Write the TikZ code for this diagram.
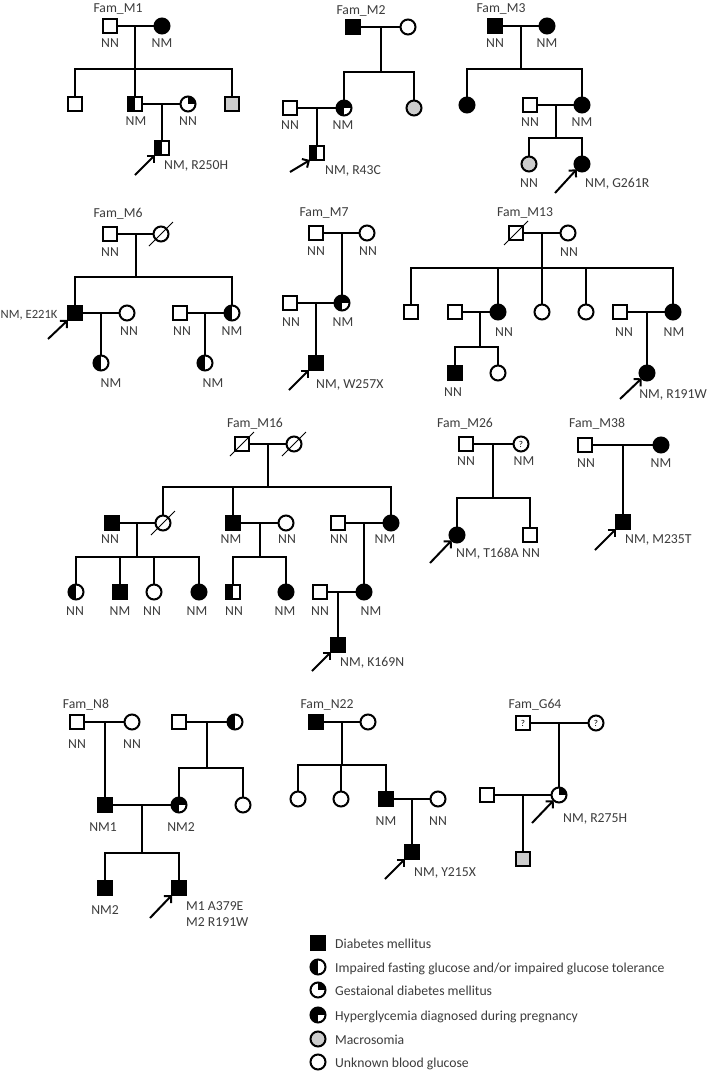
\documentclass[tikz,border=0pt]{standalone}
\usepackage{fontspec}
\setmainfont{Carlito}
\usetikzlibrary{arrows.meta,calc}
\definecolor{macgray}{RGB}{205,205,205}
\definecolor{txt}{RGB}{60,60,60}
\newcommand\lblfont{\fontsize{13.7}{15}\selectfont}
\newcommand\smlfont{\fontsize{12.6}{15}\selectfont}
\newcommand\qfont{\fontsize{9}{9}\selectfont}
\newcommand\deceased[1]{\draw[slash] ($(#1)+(-12,12)$) -- ($(#1)+(12,-12)$);}
\tikzset{
  sym/.style={draw=black, line width=2pt, inner sep=0pt, outer sep=0pt},
  sq/.style={sym, rectangle, minimum size=14},
  ci/.style={sym, circle, minimum size=15},
  aff/.style={fill=black},
  mac/.style={fill=macgray},
  halfL/.style={path picture={\fill[black] (path picture bounding box.south west) rectangle (path picture bounding box.north);}},
  gdm/.style={path picture={\fill[black] (path picture bounding box.center) rectangle (path picture bounding box.north east);}},
  hyp/.style={path picture={\fill[black] (path picture bounding box.south west) rectangle (path picture bounding box.north);\fill[black] (path picture bounding box.center) rectangle (path picture bounding box.north east);}},
  ln/.style={line width=2pt},
  lbl/.style={anchor=base, text=txt, font=\lblfont, inner sep=0pt},
  lblw/.style={lbl, anchor=base west},
  lble/.style={lbl, anchor=base east},
  parrow/.style={line width=2pt, -{Straight Barb[length=5pt,width=10pt]}},
  slash/.style={line width=0.9pt},
}
\begin{document}
\begin{tikzpicture}[x=1pt,y=-1pt]
\useasboundingbox[fill=white] (0,0) rectangle (709,1071);

% ---------------- Fam_M1 ----------------
\node[lbl] (tM1) at (118,12) {Fam\_M1};
\node[sq] (m1f) at (110,26) {};
\node[ci,aff] (m1m) at (162,26) {};
\node[sq] (m1a) at (75,104) {};
\node[sq,halfL] (m1b) at (135,104) {};
\node[ci,gdm] (m1bs) at (188,104) {};
\node[sq,mac] (m1d) at (232,104) {};
\node[sq,halfL] (m1p) at (162,148) {};
\coordinate (m1c) at (135,26); \coordinate (m1j) at (135,69);
\coordinate (m1c2) at (162,104);
\draw[ln] (m1f) -- (m1m);
\draw[ln] (m1c) -- (m1j);
\draw[ln] (m1a.north) |- (m1j) -| (m1d.north);
\draw[ln] (m1j) -- (m1b.north);
\draw[ln] (m1b) -- (m1bs);
\draw[ln] (m1c2) -- (m1p.north);
\node[lbl] (m1l1) at (110,47) {NN};
\node[lbl] (m1l2) at (162,47) {NM};
\node[lbl] (m1l3) at (136,125) {NM};
\node[lbl] (m1l4) at (188,125) {NN};
\node[lblw] (m1l5) at (164,169) {NM, R250H};
\coordinate (m1ar) at (135,175);
\draw[parrow] (m1ar) -- (m1p.south west);

% ---------------- Fam_M2 ----------------
\node[lbl] (tM2) at (361,14) {Fam\_M2};
\node[sq,aff] (m2f) at (353,27) {};
\node[ci] (m2m) at (408,27) {};
\node[ci,hyp] (m2a) at (344,108) {};
\node[ci,mac] (m2b) at (414,108) {};
\node[sq] (m2as) at (290,108) {};
\node[sq,halfL] (m2p) at (317,153) {};
\coordinate (m2c) at (381,27); \coordinate (m2j) at (381,72);
\coordinate (m2c2) at (317,108);
\draw[ln] (m2f) -- (m2m);
\draw[ln] (m2c) -- (m2j);
\draw[ln] (m2a.north) |- (m2j) -| (m2b.north);
\draw[ln] (m2as) -- (m2a);
\draw[ln] (m2c2) -- (m2p.north);
\node[lbl] (m2l1) at (290,129) {NN};
\node[lbl] (m2l2) at (343,129) {NM};
\node[lblw] (m2l3) at (325,174) {NM, R43C};
\coordinate (m2ar) at (290,172);
\draw[parrow] (m2ar) -- (m2p.south west);

% ---------------- Fam_M3 ----------------
\node[lbl] (tM3) at (501,12) {Fam\_M3};
\node[sq,aff] (m3f) at (495,26) {};
\node[ci,aff] (m3m) at (547,26) {};
\node[ci,aff] (m3a) at (467,105) {};
\node[ci,aff] (m3b) at (582,105) {};
\node[sq] (m3bs) at (530,105) {};
\node[ci,mac] (m3g1) at (529,164) {};
\node[ci,aff] (m3p) at (582,164) {};
\coordinate (m3c) at (521,26); \coordinate (m3j) at (521,69);
\coordinate (m3c2) at (556,105); \coordinate (m3j2) at (556,138);
\draw[ln] (m3f) -- (m3m);
\draw[ln] (m3c) -- (m3j);
\draw[ln] (m3a.north) |- (m3j) -| (m3b.north);
\draw[ln] (m3bs) -- (m3b);
\draw[ln] (m3c2) -- (m3j2);
\draw[ln] (m3g1.north) |- (m3j2) -| (m3p.north);
\node[lbl] (m3l1) at (495,47) {NN};
\node[lbl] (m3l2) at (547,47) {NM};
\node[lbl] (m3l3) at (530,126) {NN};
\node[lbl] (m3l4) at (582,126) {NM};
\node[lbl] (m3l5) at (529,187) {NN};
\node[lblw] (m3l6) at (585,187) {NM, G261R};
\coordinate (m3ar) at (555,193);
\draw[parrow] (m3ar) -- (m3p.south west);

% ---------------- Fam_M6 ----------------
\node[lbl] (tM6) at (118,217) {Fam\_M6};
\node[sq] (m6f) at (110,234) {};
\node[ci] (m6m) at (161,234) {};
\deceased{m6m}
\node[sq,aff] (m6p) at (75,313) {};
\node[ci,halfL] (m6b) at (232,313) {};
\node[ci] (m6ps) at (127,313) {};
\node[sq] (m6bs) at (180,313) {};
\node[ci,halfL] (m6g1) at (101,363) {};
\node[ci,halfL] (m6g2) at (205,363) {};
\coordinate (m6c) at (136,234); \coordinate (m6j) at (136,277);
\coordinate (m6c2) at (101,313); \coordinate (m6c3) at (205,313);
\draw[ln] (m6f) -- (m6m);
\draw[ln] (m6c) -- (m6j);
\draw[ln] (m6p.north) |- (m6j) -| (m6b.north);
\draw[ln] (m6p) -- (m6ps);
\draw[ln] (m6bs) -- (m6b);
\draw[ln] (m6c2) -- (m6g1.north);
\draw[ln] (m6c3) -- (m6g2.north);
\node[lbl] (m6l1) at (110,256) {NN};
\node[lbl] (m6l2) at (129,335) {NN};
\node[lbl] (m6l3) at (182,335) {NN};
\node[lbl] (m6l4) at (232,335) {NM};
\node[lbl] (m6l5) at (111,387) {NM};
\node[lbl] (m6l6) at (213,387) {NM};
\node[lblw, font=\smlfont] (m6l7) at (0.5,318) {NM, E221K};
\coordinate (m6ar) at (48,339);
\draw[parrow] (m6ar) -- (m6p.south west);

% ---------------- Fam_M7 ----------------
\node[lbl] (tM7) at (324,216) {Fam\_M7};
\node[sq] (m7f) at (316,233) {};
\node[ci] (m7m) at (367,233) {};
\node[ci,hyp] (m7d) at (342,303) {};
\node[sq] (m7ds) at (290,303) {};
\node[sq,aff] (m7p) at (316,363) {};
\coordinate (m7c) at (342,233); \coordinate (m7c2) at (316,303);
\draw[ln] (m7f) -- (m7m);
\draw[ln] (m7c) -- (m7d.north);
\draw[ln] (m7ds) -- (m7d);
\draw[ln] (m7c2) -- (m7p.north);
\node[lbl] (m7l1) at (316,255) {NN};
\node[lbl] (m7l2) at (368,255) {NN};
\node[lbl] (m7l3) at (291,326) {NN};
\node[lbl] (m7l4) at (343,326) {NM};
\node[lblw] (m7l5) at (316,388) {NM, W257X};
\coordinate (m7ar) at (289,390);
\draw[parrow] (m7ar) -- (m7p.south west);

% ---------------- Fam_M13 ----------------
\node[lbl] (tM13) at (525,216) {Fam\_M13};
\node[sq] (m13f) at (516,233) {};
\deceased{m13f}
\node[ci] (m13m) at (568,233) {};
\node[sq] (m13a) at (411,312) {};
\node[ci,aff] (m13b) at (498,312) {};
\node[ci] (m13c1) at (542,312) {};
\node[ci] (m13d) at (586,312) {};
\node[ci,aff] (m13e) at (673,312) {};
\node[sq] (m13bs) at (455,312) {};
\node[sq] (m13es) at (620,312) {};
\node[sq,aff] (m13g1) at (455,373) {};
\node[ci] (m13g2) at (498,373) {};
\node[ci,aff] (m13p) at (647,373) {};
\coordinate (m13c) at (542,233); \coordinate (m13j) at (542,268);
\coordinate (m13c2) at (480,312); \coordinate (m13j2) at (480,347);
\coordinate (m13c3) at (647,312);
\draw[ln] (m13f) -- (m13m);
\draw[ln] (m13c) -- (m13j);
\draw[ln] (m13a.north) |- (m13j) -| (m13e.north);
\draw[ln] (m13b.north) -- (m13b.north |- m13j);
\draw[ln] (m13c1.north) -- (m13c1.north |- m13j);
\draw[ln] (m13d.north) -- (m13d.north |- m13j);
\draw[ln] (m13bs) -- (m13b);
\draw[ln] (m13es) -- (m13e);
\draw[ln] (m13c2) -- (m13j2);
\draw[ln] (m13g1.north) |- (m13j2) -| (m13g2.north);
\draw[ln] (m13c3) -- (m13p.north);
\node[lbl] (m13l1) at (569,256) {NN};
\node[lbl] (m13l2) at (504,336) {NN};
\node[lbl] (m13l3) at (624,336) {NN};
\node[lbl] (m13l4) at (674,336) {NM};
\node[lbl] (m13l5) at (453,396) {NN};
\node[lble] (m13l6) at (707,398) {NM, R191W};
\coordinate (m13ar) at (620,399);
\draw[parrow] (m13ar) -- (m13p.south west);

% ---------------- Fam_M16 ----------------
\node[lbl] (tM16) at (255,427) {Fam\_M16};
\node[sq] (m16f) at (242,444) {};
\deceased{m16f}
\node[ci] (m16m) at (294,444) {};
\deceased{m16m}
\node[ci] (m16a) at (163,523) {};
\deceased{m16a}
\node[sq,aff] (m16b) at (233,523) {};
\node[ci,aff] (m16c1) at (391,523) {};
\node[sq,aff] (m16as) at (112,523) {};
\node[ci] (m16bs) at (286,523) {};
\node[sq] (m16cs) at (338,523) {};
\node[ci,halfL] (m16g1) at (76,592) {};
\node[sq,aff] (m16g2) at (120,592) {};
\node[ci] (m16g3) at (154,592) {};
\node[ci,aff] (m16g4) at (199,592) {};
\node[sq,halfL] (m16g5) at (233,592) {};
\node[ci,aff] (m16g6) at (286,592) {};
\node[ci,aff] (m16g7) at (364,592) {};
\node[sq] (m16g7s) at (320,592) {};
\node[sq,aff] (m16p) at (338,645) {};
\coordinate (m16c) at (268,444); \coordinate (m16j) at (268,487);
\coordinate (m16c2) at (137,523); \coordinate (m16j2) at (137,557);
\coordinate (m16c3) at (260,523); \coordinate (m16j3) at (260,557);
\coordinate (m16c4) at (364,523); \coordinate (m16c5) at (338,592);
\draw[ln] (m16f) -- (m16m);
\draw[ln] (m16c) -- (m16j);
\draw[ln] (m16a.north) |- (m16j) -| (m16c1.north);
\draw[ln] (m16b.north) -- (m16b.north |- m16j);
\draw[ln] (m16as) -- (m16a);
\draw[ln] (m16b) -- (m16bs);
\draw[ln] (m16cs) -- (m16c1);
\draw[ln] (m16c2) -- (m16j2);
\draw[ln] (m16g1.north) |- (m16j2) -| (m16g4.north);
\draw[ln] (m16g2.north) -- (m16g2.north |- m16j2);
\draw[ln] (m16g3.north) -- (m16g3.north |- m16j2);
\draw[ln] (m16c3) -- (m16j3);
\draw[ln] (m16g5.north) |- (m16j3) -| (m16g6.north);
\draw[ln] (m16c4) -- (m16g7.north);
\draw[ln] (m16g7s) -- (m16g7);
\draw[ln] (m16c5) -- (m16p.north);
\node[lbl] (m16l1) at (110,543) {NN};
\node[lbl] (m16l2) at (231,543) {NM};
\node[lbl] (m16l3) at (287,543) {NN};
\node[lbl] (m16l4) at (339,543) {NN};
\node[lbl] (m16l5) at (385,543) {NM};
\node[lbl] (m16l6) at (75,615) {NN};
\node[lbl] (m16l7) at (120,615) {NM};
\node[lbl] (m16l8) at (152,615) {NN};
\node[lbl] (m16l9) at (197,615) {NM};
\node[lbl] (m16l10) at (234,615) {NN};
\node[lbl] (m16l11) at (285,615) {NM};
\node[lbl] (m16l12) at (320,615) {NN};
\node[lbl] (m16l13) at (371,615) {NM};
\node[lblw] (m16l14) at (340,666) {NM, K169N};
\coordinate (m16ar) at (312,671);
\draw[parrow] (m16ar) -- (m16p.south west);

% ---------------- Fam_M26 ----------------
\node[lbl] (tM26) at (465,427) {Fam\_M26};
\node[sq] (m26f) at (466,444) {};
\node[ci] (m26m) at (521,444) {\qfont ?};
\node[ci,aff] (m26p) at (457,535) {};
\node[sq] (m26b) at (530,535) {};
\coordinate (m26c) at (493,444); \coordinate (m26j) at (493,498);
\draw[ln] (m26f) -- (m26m);
\draw[ln] (m26c) -- (m26j);
\draw[ln] (m26p.north) |- (m26j) -| (m26b.north);
\node[lbl] (m26l1) at (466,465) {NN};
\node[lbl] (m26l2) at (524,465) {NM};
\node[lblw] (m26l3) at (456,557) {NM, T168A};
\node[lbl] (m26l4) at (531,557) {NN};
\coordinate (m26ar) at (430,563);
\draw[parrow] (m26ar) -- (m26p.south west);

% ---------------- Fam_M38 ----------------
\node[lbl] (tM38) at (597,427) {Fam\_M38};
\node[sq] (m38f) at (585,445) {};
\node[ci,aff] (m38m) at (661,445) {};
\node[sq,aff] (m38p) at (623,522) {};
\coordinate (m38c) at (623,445);
\draw[ln] (m38f) -- (m38m);
\draw[ln] (m38c) -- (m38p.north);
\node[lbl] (m38l1) at (586,467) {NN};
\node[lbl] (m38l2) at (661,467) {NM};
\node[lblw] (m38l3) at (625,543) {NM, M235T};
\coordinate (m38ar) at (595,550);
\draw[parrow] (m38ar) -- (m38p.south west);

% ---------------- Fam_N8 ----------------
\node[lbl] (tN8) at (86,708) {Fam\_N8};
\node[sq] (n8f) at (77,722) {};
\node[ci] (n8m) at (132,722) {};
\node[sq] (n8f2) at (179,722) {};
\node[ci,halfL] (n8m2) at (235,722) {};
\node[sq,aff] (n8a) at (105,805) {};
\node[ci,hyp] (n8b) at (179,805) {};
\node[ci] (n8b2) at (243,805) {};
\node[sq,aff] (n8g1) at (105,888) {};
\node[sq,aff] (n8p) at (179,888) {};
\coordinate (n8c) at (105,722);
\coordinate (n8c2) at (207,722); \coordinate (n8j2) at (207,768);
\coordinate (n8c3) at (142,805); \coordinate (n8j3) at (142,853);
\draw[ln] (n8f) -- (n8m);
\draw[ln] (n8c) -- (n8a.north);
\draw[ln] (n8f2) -- (n8m2);
\draw[ln] (n8c2) -- (n8j2);
\draw[ln] (n8b.north) |- (n8j2) -| (n8b2.north);
\draw[ln] (n8a) -- (n8b);
\draw[ln] (n8c3) -- (n8j3);
\draw[ln] (n8g1.north) |- (n8j3) -| (n8p.north);
\node[lbl] (n8l1) at (77,748) {NN};
\node[lbl] (n8l2) at (132,748) {NN};
\node[lbl] (n8l3) at (103,831) {NM1};
\node[lbl] (n8l4) at (181,831) {NM2};
\node[lbl] (n8l5) at (105,914) {NM2};
\node[lblw] (n8l6) at (186,910) {M1 A379E};
\node[lblw] (n8l7) at (186,926) {M2 R191W};
\coordinate (n8ar) at (150,918);
\draw[parrow] (n8ar) -- (n8p.south west);

% ---------------- Fam_N22 ----------------
\node[lbl] (tN22) at (327,708) {Fam\_N22};
\node[sq,aff] (n22f) at (316,722) {};
\node[ci] (n22m) at (368,722) {};
\node[ci] (n22a) at (298,799) {};
\node[ci] (n22b) at (341,799) {};
\node[sq,aff] (n22c1) at (386,799) {};
\node[ci] (n22cs) at (438,799) {};
\node[sq,aff] (n22p) at (412,852) {};
\coordinate (n22c) at (342,722); \coordinate (n22j) at (342,765);
\coordinate (n22c2) at (412,799);
\draw[ln] (n22f) -- (n22m);
\draw[ln] (n22c) -- (n22j);
\draw[ln] (n22a.north) |- (n22j) -| (n22c1.north);
\draw[ln] (n22b.north) -- (n22b.north |- n22j);
\draw[ln] (n22c1) -- (n22cs);
\draw[ln] (n22c2) -- (n22p.north);
\node[lbl] (n22l1) at (386,825) {NM};
\node[lbl] (n22l2) at (438,825) {NN};
\node[lblw] (n22l3) at (414,876) {NM, Y215X};
\coordinate (n22ar) at (385,879);
\draw[parrow] (n22ar) -- (n22p.south west);

% ---------------- Fam_G64 ----------------
\node[lbl] (tG64) at (535,708) {Fam\_G64};
\node[sq] (g64f) at (523,723) {\qfont ?};
\node[ci] (g64m) at (596,723) {\qfont ?};
\node[ci,gdm] (g64p) at (559,795) {};
\node[sq] (g64ps) at (487,795) {};
\node[sq,mac] (g64g) at (523,859) {};
\coordinate (g64c) at (559,723); \coordinate (g64c2) at (523,795);
\draw[ln] (g64f) -- (g64m);
\draw[ln] (g64c) -- (g64p.north);
\draw[ln] (g64ps) -- (g64p);
\draw[ln] (g64c2) -- (g64g.north);
\node[lblw] (g64l1) at (563,822) {NM, R275H};
\coordinate (g64ar) at (532,823);
\draw[parrow] (g64ar) -- (g64p.south west);

% ---------------- Legend ----------------
\node[sq,aff] (lg1) at (318,943) {};
\node[ci,halfL] (lg2) at (318,967) {};
\node[ci,gdm] (lg3) at (318,990) {};
\node[ci,hyp] (lg4) at (318,1015) {};
\node[ci,mac] (lg5) at (318,1039) {};
\node[ci] (lg6) at (318,1062) {};
\node[lblw] (lt1) at (335,948) {Diabetes mellitus};
\node[lblw] (lt2) at (335,972) {Impaired fasting glucose and/or impaired glucose tolerance};
\node[lblw] (lt3) at (335,995) {Gestaional diabetes mellitus};
\node[lblw] (lt4) at (335,1020) {Hyperglycemia diagnosed during pregnancy};
\node[lblw] (lt5) at (335,1044) {Macrosomia};
\node[lblw] (lt6) at (335,1067) {Unknown blood glucose};
\end{tikzpicture}
\end{document}
